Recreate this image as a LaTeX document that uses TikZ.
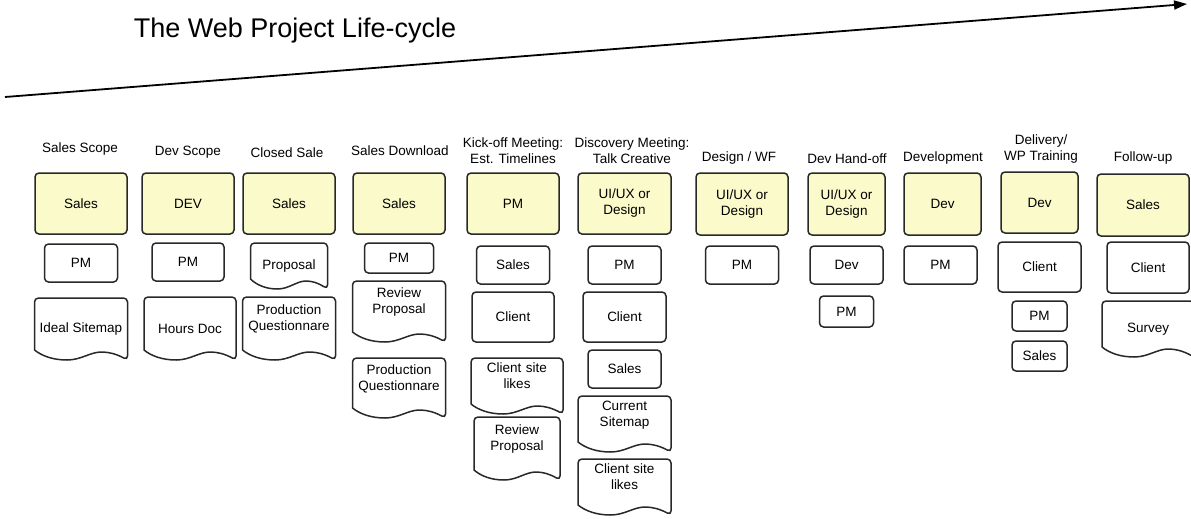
\documentclass[tikz,border=0pt]{standalone}
\usepackage{fontspec}
\setmainfont{Liberation Sans}
\usepackage{tikz}
\usetikzlibrary{arrows.meta,positioning,calc}

\definecolor{roleyellow}{RGB}{250,250,202}
\definecolor{edgegray}{RGB}{40,40,40}

\newcommand{\boxfont}{\fontsize{13.5}{16}\selectfont}

% document shape: rounded top, wavy bottom edge
\newcommand{\docoutline}[1]{%
  \draw[edgegray, line width=1.5pt, rounded corners=4pt]
    ($(#1.south west)+(0,-10)$) -- (#1.north west) -- (#1.north east)
    -- (#1.south east) [sharp corners]
    .. controls ($(#1.south west)!0.88!(#1.south east)+(0,-6)$)
            and ($(#1.south west)!0.80!(#1.south east)+(0,-8)$)
    .. ($(#1.south west)!0.72!(#1.south east)+(0,-8)$)
    .. controls ($(#1.south west)!0.60!(#1.south east)+(0,-8)$)
            and ($(#1.south west)!0.50!(#1.south east)$)
    .. ($(#1.south west)!0.35!(#1.south east)$)
    .. controls ($(#1.south west)!0.20!(#1.south east)$)
            and ($(#1.south west)!0.08!(#1.south east)+(0,-4)$)
    .. cycle;}

\begin{document}
\begin{tikzpicture}[
    x=1pt, y=-1pt,
    head/.style={font=\boxfont, align=center, inner sep=0pt},
    role/.style={
        rectangle, draw=edgegray, line width=1.5pt, rounded corners=4pt,
        fill=roleyellow, font=\boxfont, align=center, outer sep=0pt,
        minimum width=92pt, minimum height=61pt, inner sep=2pt
    },
    who/.style={
        rectangle, draw=edgegray, line width=1.5pt, rounded corners=4pt,
        fill=white, font=\boxfont, align=center, outer sep=0pt,
        minimum width=73pt, minimum height=38pt, inner sep=2pt
    },
    doc/.style={
        rectangle, font=\boxfont, align=center, outer sep=0pt,
        minimum width=93pt, minimum height=62pt, inner sep=2pt
    },
    doc2/.style={
        doc, text width=82pt, text height=10pt, text depth=38pt
    },
    timeline/.style={line width=1.8pt, -{Triangle[length=13pt,width=9pt]}}
]
    \clip (0,0) rectangle (1191,519);

    % Title and time arrow
    \node [font=\fontsize{27}{30}\selectfont, inner sep=0pt] (title) at (295,31) {The Web Project Life-cycle};
    \coordinate (t0) at (5,97);
    \coordinate (t1) at (1187,4);
    \draw [timeline] (t0) -- (t1);

    % Phase headings
    \node [head] (h1) at (80,149.5) {Sales Scope};
    \node [head] (h2) at (188,152.5) {Dev Scope};
    \node [head] (h3) at (287,152.5) {Closed Sale};
    \node [head] (h4) at (400,150.5) {Sales Download};
    \node [head] (h5) at (513,151) {Kick-off Meeting:\\Est. Timelines};
    \node [head] (h6) at (632,151) {Discovery Meeting:\\Talk Creative};
    \node [head] (h7) at (739,158.5) {Design / WF};
    \node [head] (h8) at (847,158.5) {Dev Hand-off};
    \node [head] (h9) at (943,158.5) {Development};
    \node [head] (h10) at (1041,149) {Delivery/\\WP Training};
    \node [head] (h11) at (1143,158.5) {Follow-up};

    % Sales Scope
    \node [role] (r1) at (81,203.5) {Sales};
    \node [who, below=10pt of r1] (pm1) {PM};
    \node [doc, below=16pt of pm1] (is1) {Ideal Sitemap};

    % Dev Scope
    \node [role] (r2) at (188,203.5) {DEV};
    \node [who, minimum width=72pt, below=9pt of r2] (pm2) {PM};
    \node [doc, minimum width=92pt, minimum height=63pt, below=16pt of pm2, xshift=2pt] (hd2) {Hours Doc};

    % Closed Sale
    \node [role] (r3) at (289,203.5) {Sales};
    \node [doc, minimum width=77pt, minimum height=46pt, below=9pt of r3] (pr3) {Proposal};
    \node [doc2, minimum height=63pt, below=8pt of pr3] (pq3) {Production\\Questionnare};

    % Sales Download
    \node [role] (r4) at (399,203.5) {Sales};
    \node [who, minimum width=69pt, minimum height=30pt, below=9pt of r4] (pm4) {PM};
    \node [doc2, minimum height=61pt, below=8pt of pm4] (rp4) {Review\\Proposal};
    \node [doc2, minimum height=60pt, below=16pt of rp4] (pq4) {Production\\Questionnare};

    % Kick-off Meeting
    \node [role] (r5) at (513,203.5) {PM};
    \node [who, below=12pt of r5] (sa5) {Sales};
    \node [who, minimum width=82pt, minimum height=50pt, below=8pt of sa5] (cl5) {Client};
    \node [doc2, minimum width=92pt, minimum height=56pt, below=16pt of cl5, xshift=4pt] (cs5) {Client site\\likes};
    \node [doc2, minimum width=86pt, minimum height=63pt, below=3pt of cs5] (rp5) {Review\\Proposal};

    % Discovery Meeting
    \node [role, minimum width=93pt] (r6) at (624.5,203.5) {UI/UX or\\Design};
    \node [who, below=12pt of r6] (pm6) {PM};
    \node [who, minimum width=83pt, minimum height=50pt, below=8pt of pm6] (cl6) {Client};
    \node [who, below=8pt of cl6] (sa6) {Sales};
    \node [doc2, minimum height=56pt, below=8pt of sa6] (cu6) {Current\\Sitemap};
    \node [doc2, minimum height=56pt, below=7pt of cu6] (cs6) {Client site\\likes};

    % Design / WF
    \node [role, minimum height=62pt] (r7) at (742,204) {UI/UX or\\Design};
    \node [who, below=11pt of r7] (pm7) {PM};

    % Dev Hand-off
    \node [role, minimum width=77pt, minimum height=62pt] (r8) at (846.5,204) {UI/UX or\\Design};
    \node [who, below=11pt of r8] (dv8) {Dev};
    \node [who, minimum width=54pt, minimum height=31pt, below=12pt of dv8] (pm8) {PM};

    % Development
    \node [role, minimum width=77pt, minimum height=62pt] (r9) at (942.5,204) {Dev};
    \node [who, below=11pt of r9, xshift=-2pt] (pm9) {PM};

    % Delivery / WP Training
    \node [role, minimum width=77pt] (r10) at (1039.5,202.5) {Dev};
    \node [who, minimum width=83pt, minimum height=50pt, below=9pt of r10] (cl10) {Client};
    \node [who, minimum width=55pt, minimum height=30pt, below=9pt of cl10] (pm10) {PM};
    \node [who, minimum width=55pt, minimum height=30pt, below=10pt of pm10] (sa10) {Sales};

    % Follow-up
    \node [role, minimum height=62pt] (r11) at (1143,205) {Sales};
    \node [who, minimum width=82pt, minimum height=51pt, below=6pt of r11, xshift=5pt] (cl11) {Client};
    \node [doc, minimum width=92pt, minimum height=56pt, below=8pt of cl11] (sv11) {Survey};

    % document outlines
    \foreach \d in {is1,hd2,pr3,pq3,rp4,pq4,cs5,rp5,cu6,cs6,sv11}
        \docoutline{\d};

\end{tikzpicture}
\end{document}
